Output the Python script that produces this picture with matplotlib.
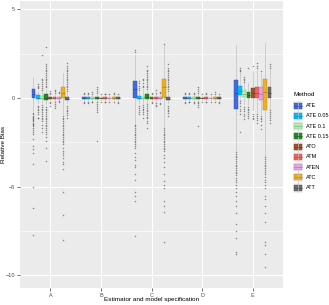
import matplotlib
matplotlib.use("Agg")
import matplotlib.pyplot as plt
import matplotlib.colors as mcolors
from matplotlib.patches import Rectangle
from matplotlib.lines import Line2D

plt.rcParams["font.family"] = ["Liberation Sans", "DejaVu Sans"]

groups = ["A", "B", "C", "D", "E"]
methods = ["ATE", "ATE 0.05", "ATE 0.1", "ATE 0.15", "ATO", "ATM", "ATEN", "ATC", "ATT"]
colors = ["#4169E1", "#00BFFF", "#A8F5A8", "#228B22", "#A0522D",
          "#F06262", "#E8A0E8", "#EDB120", "#6B6B6B"]

# box stats per group: (whislo, q1, med, q3, whishi) for each method
stats_A = [(-0.75, -0.02, 0.25, 0.5, 1.2), (-0.3, -0.08, 0.0, 0.15, 0.4),
           (-0.3, -0.03, 0.02, 0.1, 0.35), (-0.35, -0.1, 0.0, 0.2, 0.45),
           (-0.1, -0.03, 0.0, 0.03, 0.1), (-0.15, -0.05, 0.0, 0.05, 0.15),
           (-0.1, -0.03, 0.0, 0.03, 0.1), (-0.9, 0.0, 0.3, 0.6, 1.4),
           (-0.3, -0.12, -0.05, 0.05, 0.3)]
stats_B = [(-0.12, -0.03, 0.0, 0.03, 0.12), (-0.12, -0.03, 0.0, 0.03, 0.12),
           (-0.12, -0.03, 0.0, 0.03, 0.12), (-0.15, -0.05, 0.0, 0.05, 0.15),
           (-0.1, -0.02, 0.0, 0.02, 0.1), (-0.1, -0.03, 0.0, 0.03, 0.1),
           (-0.1, -0.02, 0.0, 0.02, 0.1), (-0.12, -0.03, 0.0, 0.03, 0.12),
           (-0.12, -0.04, 0.0, 0.03, 0.12)]
stats_C = [(-1.45, 0.0, 0.5, 0.97, 2.45), (-0.3, -0.08, 0.0, 0.12, 0.35),
           (-0.3, -0.05, 0.02, 0.08, 0.5), (-0.3, -0.05, 0.05, 0.2, 0.4),
           (-0.1, -0.03, 0.0, 0.03, 0.1), (-0.15, -0.05, 0.0, 0.07, 0.2),
           (-0.1, -0.03, 0.0, 0.05, 0.15), (-1.6, 0.0, 0.6, 1.1, 3.0),
           (-0.3, -0.12, -0.05, 0.05, 0.3)]
stats_D = [(-0.12, -0.03, 0.0, 0.03, 0.12), (-0.12, -0.03, 0.0, 0.03, 0.12),
           (-0.12, -0.03, 0.0, 0.03, 0.12), (-0.15, -0.05, 0.0, 0.05, 0.15),
           (-0.1, -0.02, 0.0, 0.02, 0.1), (-0.1, -0.03, 0.0, 0.03, 0.1),
           (-0.1, -0.02, 0.0, 0.02, 0.1), (-0.12, -0.03, 0.0, 0.03, 0.12),
           (-0.12, -0.04, 0.0, 0.03, 0.12)]
stats_E = [(-3.0, -0.62, 0.3, 1.0, 3.0), (-0.1, 0.17, 0.4, 0.7, 1.5),
           (-0.35, 0.05, 0.2, 0.45, 0.85), (-0.4, 0.0, 0.15, 0.35, 0.85),
           (-0.7, 0.0, 0.3, 0.56, 1.5), (-0.8, 0.0, 0.3, 0.63, 1.6),
           (-0.9, -0.11, 0.25, 0.6, 1.4), (-3.3, -0.68, 0.32, 1.1, 3.1),
           (-0.6, 0.0, 0.3, 0.63, 1.6)]

# outliers per group and method
out_A = [
    [-0.85, -0.9, -1.0, -1.05, -1.1, -1.2, -1.25, -1.3, -1.4, -1.45, -1.5, -1.6, -1.7,
     -1.8, -1.9, -2.0, -2.3, -2.7, -2.9, -3.1, -3.7, -5.0, -6.2, -7.7],
    [0.55, 0.6, 0.7, 0.8, -0.45, -0.5, -0.6, -0.7, -0.8, -0.9, -1.1, -1.15],
    [0.45, 0.55, 0.7, 0.8, 0.9, 1.0, 1.1, 2.45, -0.4, -0.5, -0.6, -0.7, -0.8, -0.9,
     -1.0, -1.1, -1.2, -1.3, -1.5, -1.7, -1.9],
    [0.6, 0.7, 0.8, 0.9, 1.0, 1.1, 1.2, 1.3, 1.4, 1.5, 1.6, 1.7, 1.8, 1.9, 2.9,
     -0.5, -0.6, -0.7, -0.8, -0.9, -1.0, -1.1, -1.2, -1.3, -1.4, -1.5, -1.6, -1.7,
     -1.8, -1.9, -2.0, -2.2, -2.4, -2.8, -3.55],
    [0.25, 0.3, 0.4, -0.2, -0.3, -0.45],
    [0.3, 0.4, 0.45, -0.25, -0.35, -0.45, -0.55],
    [0.3, 0.35, -0.15, -0.25],
    [-1.0, -1.1, -1.2, -1.3, -1.4, -1.5, -1.6, -1.7, -1.8, -1.9, -2.0, -2.1, -2.2,
     -2.3, -2.4, -2.5, -2.6, -2.8, -3.0, -3.1, -3.2, -3.4, -3.6, -3.7, -4.0, -5.3,
     -6.6, -8.0],
    [0.4, 0.5, 0.6, 0.7, 0.8, 0.9, 1.0, 1.1, 1.2, 1.3, 1.4, 1.5, 1.6, 1.7, 1.8, 2.0,
     -0.45, -0.55, -0.65, -0.75, -0.85, -0.95, -1.1],
]
out_B = [
    [0.25, 0.3, -0.2, -0.3], [0.25, 0.3, -0.2, -0.3], [0.25, 0.35, -0.2, -0.25],
    [0.3, 0.4, 0.5, 0.6, -0.25, -0.35, -0.45, -0.55, -0.65, -0.8, -2.4],
    [0.2, -0.2], [0.2, 0.25, -0.2, -0.25], [0.2, -0.2], [0.25, 0.3, -0.2],
    [0.25, -0.25, -0.3],
]
out_C = [
    [2.6, 2.7, -1.5, -1.6, -1.7, -1.8, -1.9, -2.0, -2.1, -2.2, -2.3, -2.4, -2.5,
     -2.6, -2.7, -2.8, -3.1, -3.3, -3.5, -3.8, -3.9, -4.3, -4.6, -5.3, -5.5, -5.8,
     -7.8],
    [0.45, 0.55, 0.7, 0.85, 0.95, -0.45, -0.55, -0.7, -0.8, -0.9],
    [0.6, 0.7, 0.85, 1.0, 1.1, -0.4, -0.5, -0.6, -0.7, -0.8, -0.9, -1.1],
    [0.5, 0.6, 0.7, 0.8, 0.9, 1.0, 1.1, 1.2, 1.3, 1.4, 1.5, 1.6, 1.8, -0.35, -0.45,
     -0.55, -0.65, -0.75, -0.85, -0.95, -1.05, -1.15, -1.3, -1.4, -1.7],
    [0.25, 0.3, -0.2, -0.3],
    [0.3, 0.45, -0.3, -0.4, -0.45],
    [0.3, 0.35, -0.3, -0.35],
    [3.05, -1.7, -1.8, -1.9, -2.0, -2.1, -2.2, -2.3, -2.4, -2.5, -2.6, -2.7, -2.8,
     -2.9, -3.0, -3.2, -3.4, -3.6, -3.9, -4.3, -4.7, -4.9, -5.1, -5.8, -6.1, -6.4,
     -8.1],
    [0.4, 0.5, 0.6, 0.7, 0.8, 0.9, 1.0, 1.1, 1.2, 1.3, 1.4, 1.5, 1.6, 1.7, 1.9,
     -0.45, -0.55, -0.65, -0.75, -0.85, -1.0],
]
out_D = [
    [0.25, 0.3, -0.2, -0.3], [0.25, 0.3, -0.2, -0.25], [0.2, 0.3, -0.2, -0.3],
    [0.3, 0.4, 0.5, 0.6, -0.2, -0.3, -0.4, -0.5, -1.6],
    [0.2, -0.2], [0.2, 0.3, -0.2, -0.25], [0.2, -0.2], [0.25, 0.35, -0.2],
    [0.25, -0.25, -0.3],
]
out_E = [
    [-3.05, -3.15, -3.25, -3.35, -3.45, -3.55, -3.65, -3.75, -3.85, -3.95, -4.05,
     -4.15, -4.25, -4.35, -4.5, -4.6, -4.75, -4.9, -5.1, -5.3, -5.5, -5.8, -6.1,
     -6.5, -7.1, -7.5, -7.9, -8.7, -8.8],
    [1.55, 1.6, 1.7, -0.15, -0.3, -0.45, -0.6, -0.75, -0.9, -1.9],
    [0.9, 1.0, 1.1, 1.2, -0.5, -0.6, -0.75, -0.9, -1.0, -1.2],
    [1.7, -0.5, -0.6, -0.7, -0.8, -0.9, -1.0, -1.1],
    [1.8, -0.9, -1.0, -1.1, -1.2],
    [1.7, 1.8, 2.0, -0.9, -1.0, -1.1, -1.25, -1.4],
    [1.5, -1.0, -1.1, -1.2, -1.3, -1.5, -1.75],
    [-3.35, -3.45, -3.55, -3.65, -3.75, -3.85, -3.95, -4.05, -4.15, -4.3, -4.45,
     -4.6, -4.75, -4.9, -5.1, -5.5, -5.7, -6.1, -6.5, -7.0, -8.1, -8.3, -8.8, -9.5],
    [1.7, 1.8, 1.9, -0.7, -0.8, -0.9, -1.0, -1.1, -1.25, -1.4],
]

all_stats = [stats_A, stats_B, stats_C, stats_D, stats_E]
all_out = [out_A, out_B, out_C, out_D, out_E]

W, H = 329, 305
fig = plt.figure(figsize=(W / 100, H / 100), dpi=100)
ax = fig.add_axes([20 / W, (H - 288) / H, (283 - 20) / W, (288 - 1) / H])
ax.set_facecolor("#EBEBEB")
for s in ax.spines.values():
    s.set_visible(False)

dodge = 0.75 / len(methods)
for g, (st, ol) in enumerate(zip(all_stats, all_out)):
    bxstats = []
    pos = []
    for i, m in enumerate(methods):
        lo, q1, med, q3, hi = st[i]
        bxstats.append(dict(whislo=lo, q1=q1, med=med, q3=q3, whishi=hi, fliers=ol[i], label=m))
        pos.append(g + (i - (len(methods) - 1) / 2) * dodge)
    bp = ax.bxp(bxstats, positions=pos, widths=dodge * 0.92, patch_artist=True,
                showcaps=False, manage_ticks=False,
                whiskerprops=dict(color="#C8C8C8", lw=0.6, zorder=2),
                flierprops=dict(marker="o", markersize=1.1, markerfacecolor="#3A3A3A",
                                markeredgecolor="none", alpha=0.55, zorder=2),
                medianprops=dict(lw=0.6, zorder=4),
                boxprops=dict(lw=0.3, zorder=3))
    for i, c in enumerate(colors):
        dark = tuple(v * 0.75 for v in mcolors.to_rgb(c))
        bp["boxes"][i].set_facecolor(c)
        bp["boxes"][i].set_edgecolor(dark)
        bp["medians"][i].set_color(dark)

ax.set_xlim(-0.6, 4.6)
ax.set_ylim(-10.71, 5.47)
ax.set_xticks(range(len(groups)))
ax.set_xticklabels(groups)
ax.set_yticks([-10, -5, 0, 5])
ax.set_yticks([-7.5, -2.5, 2.5], minor=True)
ax.grid(which="major", color="white", lw=0.8)
ax.grid(which="minor", axis="y", color="white", lw=0.4)
ax.set_axisbelow(True)
ax.tick_params(which="major", length=2, width=0.5, color="#333333",
               labelsize=4, labelcolor="#4D4D4D", pad=1.5)
ax.tick_params(which="minor", length=0)
ax.set_xlabel("Estimator and model specification", fontsize=4.6)
ax.xaxis.set_label_coords(0.5, (288 - 297.5) / 287)
ax.xaxis.label.set_va("top")
ax.set_ylabel("Relative Bias", fontsize=4.6)
ax.yaxis.set_label_coords((4 - 20) / 263, 0.5)
ax.yaxis.label.set_va("center")

# legend drawn by hand, ggplot style
fig.text(293 / W, 1 - 95 / H, "Method", fontsize=4.6, va="center", ha="left")
for i, (m, c) in enumerate(zip(methods, colors)):
    yc = 105.7 + 10.25 * i
    dark = tuple(v * 0.75 for v in mcolors.to_rgb(c))
    fig.add_artist(Rectangle((293 / W, 1 - (yc + 4.8) / H), 10 / W, 9.6 / H,
                             transform=fig.transFigure, facecolor="#F2F2F2", edgecolor="none"))
    fig.add_artist(Line2D([298 / W, 298 / W], [1 - (yc + 4.5) / H, 1 - (yc - 4.5) / H],
                          transform=fig.transFigure, color="#C8C8C8", lw=0.5))
    fig.add_artist(Rectangle((294 / W, 1 - (yc + 3) / H), 8 / W, 6 / H,
                             transform=fig.transFigure, facecolor=c, edgecolor=dark, lw=0.3))
    fig.add_artist(Line2D([294 / W, 302 / W], [1 - yc / H, 1 - yc / H],
                          transform=fig.transFigure, color=dark, lw=0.5))
    fig.text(306 / W, 1 - yc / H, m, fontsize=4, va="center", ha="left")

fig.savefig("out.png", dpi=100)
